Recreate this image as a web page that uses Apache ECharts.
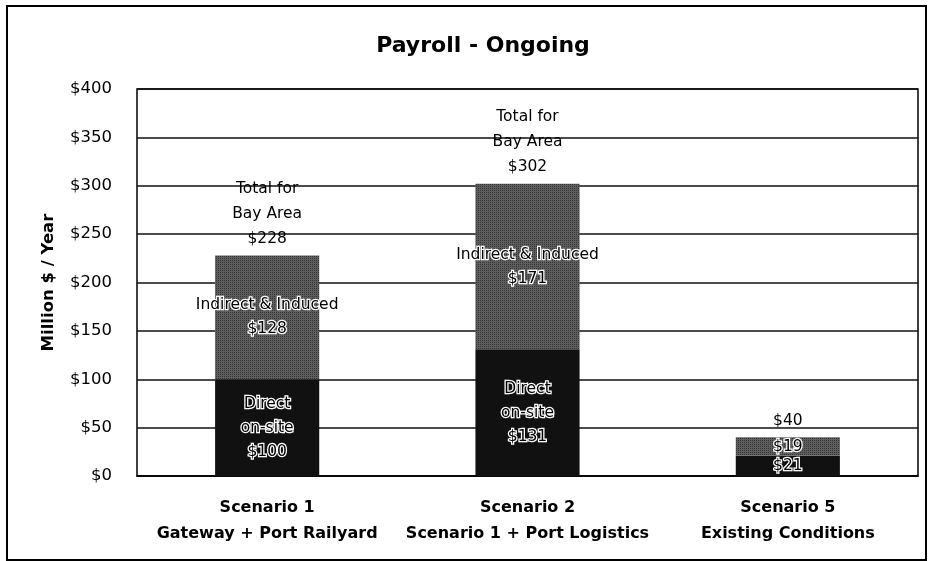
<!DOCTYPE html>
<html>
<head>
<meta charset="UTF-8">
<script src="https://cdn.jsdelivr.net/npm/echarts@6/dist/echarts.min.js"></script>
<title>Payroll - Ongoing</title>
<style type="text/css">
body{ margin:0; padding:0; background:#fff; }
#main{ width:934px; height:561px; }
</style>
</head>
<body>
<div id="main"></div>
<script type="text/javascript">
// categories (two-line axis labels)
var categories = ['Scenario 1\nGateway + Port Railyard', 'Scenario 2\nScenario 1 + Port Logistics', 'Scenario 5\nExisting Conditions'];
// million $ per year
var direct = [100, 131, 21];
var indirect = [128, 171, 19];
var totals = [228, 302, 40];
var yTicks = [0, 50, 100, 150, 200, 250, 300, 350, 400];

var font = 'DejaVu Sans';
var myChart = echarts.init(document.getElementById('main'));

var insideLabel = {
  show: true,
  position: 'inside',
  fontFamily: font,
  fontSize: 15.5,
  lineHeight: 24,
  color: '#000',
  textBorderColor: '#fff',
  textBorderWidth: 2.5
};

option = {
  backgroundColor: '#fff',
  animation: false,
  title: {
    text: 'Payroll - Ongoing',
    left: 478,
    textAlign: 'center',
    top: 30,
    textStyle: { fontFamily: font, fontSize: 22, fontWeight: 'bold', color: '#000' }
  },
  graphic: [{
    type: 'rect',
    shape: { x: 7, y: 6, width: 919, height: 554 },
    style: { fill: 'none', stroke: '#000', lineWidth: 2 },
    silent: true
  }],
  grid: {
    left: 137, right: 16, top: 89, bottom: 85,
    show: true, borderColor: '#000', borderWidth: 1.5
  },
  xAxis: {
    type: 'category',
    data: categories,
    axisLine: { lineStyle: { color: '#000', width: 1.5 } },
    axisTick: { show: false },
    axisLabel: {
      interval: 0,
      margin: 19,
      fontFamily: font, fontSize: 16, fontWeight: 'bold', lineHeight: 26, color: '#000'
    }
  },
  yAxis: {
    type: 'value',
    min: yTicks[0],
    max: yTicks[yTicks.length - 1],
    interval: 50,
    name: 'Million $ / Year',
    nameLocation: 'middle',
    nameGap: 80,
    nameTextStyle: { fontFamily: font, fontSize: 16.5, fontWeight: 'bold', color: '#000' },
    axisLine: { show: false },
    axisTick: { show: false },
    axisLabel: {
      margin: 25,
      fontFamily: font, fontSize: 16.5, color: '#000',
      formatter: function (v) { return '$' + v; }
    },
    splitLine: { lineStyle: { color: '#111', width: 1.5 } }
  },
  series: [
    {
      name: 'Direct on-site',
      type: 'bar',
      stack: 'pay',
      barWidth: '40%',
      data: direct,
      itemStyle: { color: '#111' },
      label: Object.assign({}, insideLabel, {
        formatter: function (p) {
          return p.value < 50 ? '$' + p.value : 'Direct\non-site\n$' + p.value;
        }
      })
    },
    {
      name: 'Indirect & Induced',
      type: 'bar',
      stack: 'pay',
      barWidth: '40%',
      data: indirect,
      itemStyle: {
        color: '#5e5e5e',
        decal: {
          symbol: 'rect', symbolSize: 1, color: 'rgba(20,20,20,0.55)',
          dashArrayX: [1, 1], dashArrayY: [1, 1], rotation: 0
        }
      },
      label: Object.assign({}, insideLabel, {
        formatter: function (p) {
          return p.value < 50 ? '$' + p.value : 'Indirect & Induced\n$' + p.value;
        }
      })
    },
    {
      name: 'Total',
      type: 'bar',
      barWidth: '40%',
      barGap: '-100%',
      z: 0,
      silent: true,
      data: totals,
      itemStyle: { color: 'rgba(0,0,0,0)' },
      label: {
        show: true,
        position: 'top',
        distance: 4,
        fontFamily: font,
        fontSize: 15.5,
        lineHeight: 25,
        color: '#000',
        formatter: function (p) {
          return p.value < 50 ? '$' + p.value : 'Total for\nBay Area\n$' + p.value;
        }
      }
    }
  ]
};

myChart.setOption(option);
</script>
</body>
</html>
